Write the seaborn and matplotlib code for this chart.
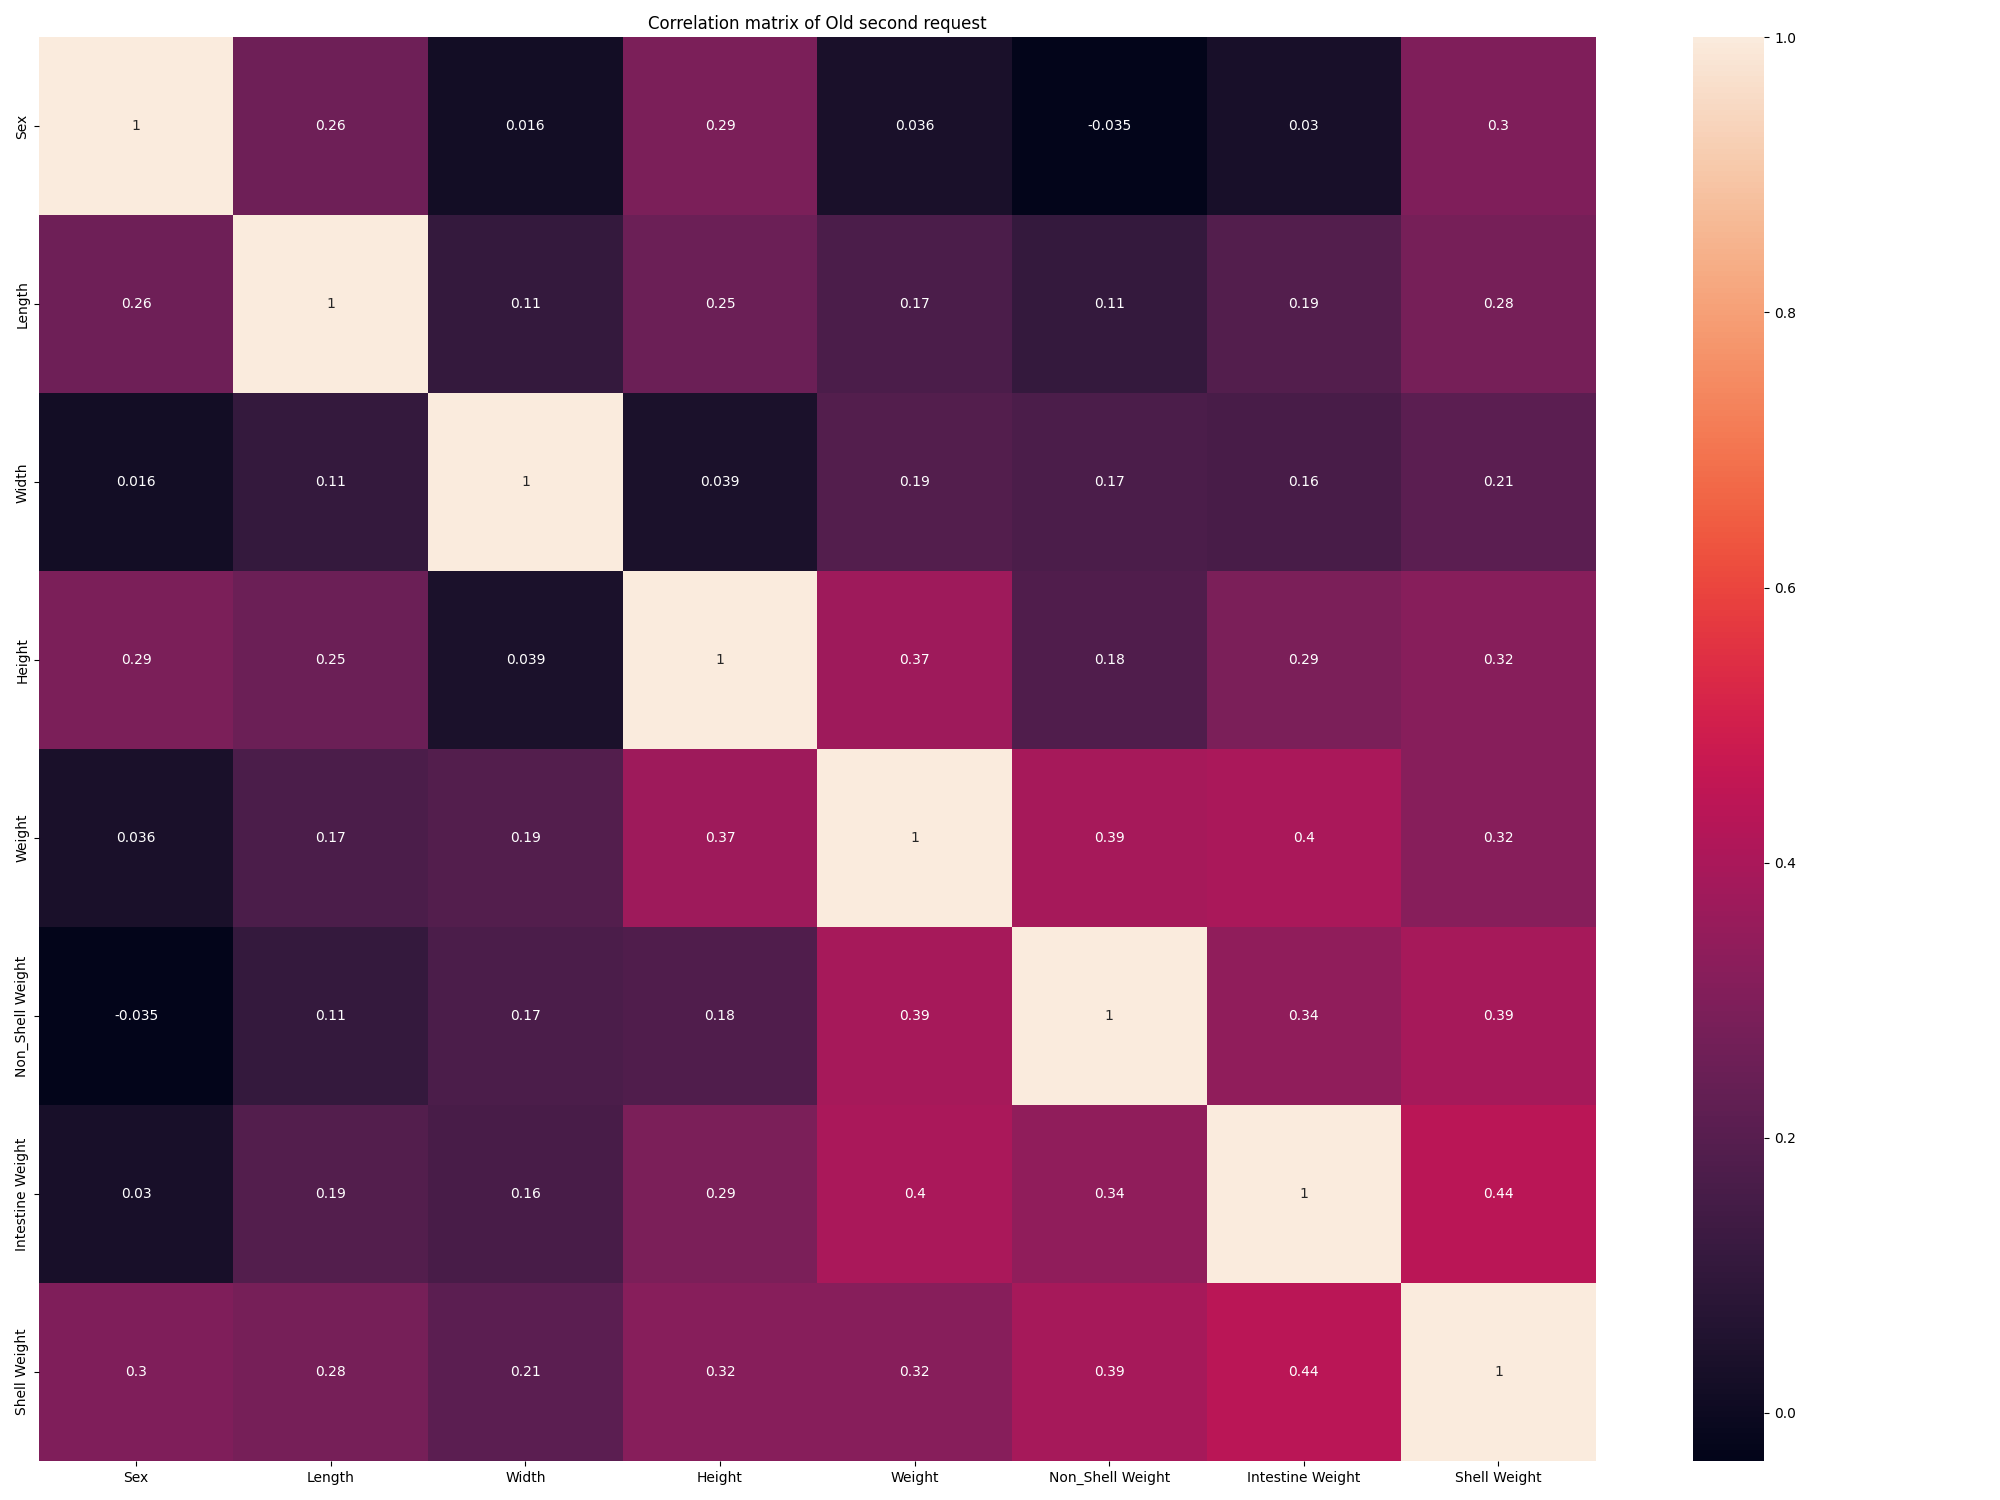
import numpy as np
import pandas as pd
import seaborn as sns
import matplotlib.pyplot as plt

features = ['Sex', 'Length', 'Width', 'Height', 'Weight',
            'Non_Shell Weight', 'Intestine Weight', 'Shell Weight']

# correlation values (upper triangle incl. diagonal)
row_sex = [1, 0.26, 0.016, 0.29, 0.036, -0.035, 0.03, 0.3]
row_length = [0.26, 1, 0.11, 0.25, 0.17, 0.11, 0.19, 0.28]
row_width = [0.016, 0.11, 1, 0.039, 0.19, 0.17, 0.16, 0.21]
row_height = [0.29, 0.25, 0.039, 1, 0.37, 0.18, 0.29, 0.32]
row_weight = [0.036, 0.17, 0.19, 0.37, 1, 0.39, 0.4, 0.32]
row_non_shell = [-0.035, 0.11, 0.17, 0.18, 0.39, 1, 0.34, 0.39]
row_intestine = [0.03, 0.19, 0.16, 0.29, 0.4, 0.34, 1, 0.44]
row_shell = [0.3, 0.28, 0.21, 0.32, 0.32, 0.39, 0.44, 1]

corr = pd.DataFrame([row_sex, row_length, row_width, row_height, row_weight,
                     row_non_shell, row_intestine, row_shell],
                    index=features, columns=features)

plt.figure(figsize=(20, 15))
sns.heatmap(corr, annot=True)
plt.title('Correlation matrix of Old second request')
plt.tight_layout()
plt.savefig('out.png', dpi=100)
